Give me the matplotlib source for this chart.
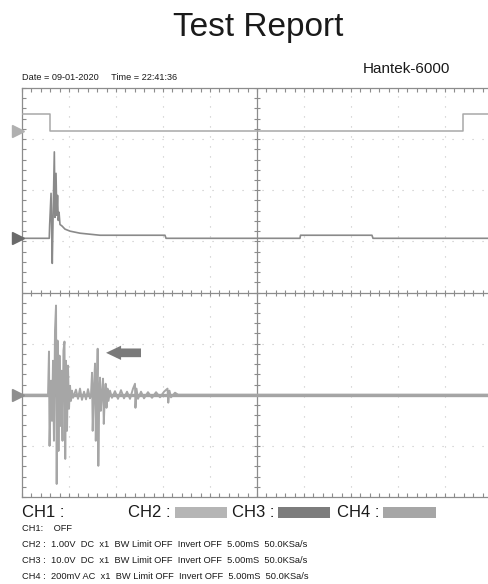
import numpy as np
import matplotlib.pyplot as plt
from matplotlib.patches import FancyArrow, Rectangle

plt.rcParams['font.family'] = ['Liberation Sans', 'DejaVu Sans']

# screen: 10 div x 5 ms, 8 div vertical
t_span = 50.0

# CH2 : 1.00 V/div, ground marker offset in div
ch2_offset = 3.16
ch2_t = [0, 2.93, 2.93, 46.91, 46.91, 50]
ch2_v = [0.33, 0.33, 0.0, 0.0, 0.33, 0.33]

# CH3 : 10.0 V/div
ch3_offset = 1.06
ch3_t = [0, 2.90, 2.94, 3.09, 3.22, 3.30, 3.44, 3.51, 3.62, 3.70, 3.78, 3.86,
         3.94, 4.04, 4.26, 4.57, 5.11, 5.64, 6.17, 7.23, 8.30, 15.21, 15.32,
         29.57, 29.63, 37.23, 37.34, 50]
ch3_v = [0, 0, 2.5, 8.8, -4.9, 3.5, 16.9, 4.1, 12.7, 4.5, 8.4, 3.5,
         5.1, 2.7, 2.4, 1.8, 1.4, 1.2, 1.0, 0.8, 0.6, 0.6, 0,
         0, 0.6, 0.6, 0, 0]

# CH4 : 200 mV/div AC
ch4_offset = -2.0
ch4_t = [0, 2.77, 2.87, 2.93, 3.09, 3.19, 3.30, 3.40, 3.51, 3.62, 3.69, 3.78,
         3.88, 3.99, 4.10, 4.20, 4.31, 4.41, 4.52, 4.60, 4.68, 4.79, 4.89,
         5.00, 5.11, 5.21, 5.32, 5.43, 5.74, 5.96, 6.17, 6.38, 6.60, 6.81,
         7.02, 7.23, 7.34, 7.45, 7.52, 7.66, 7.77, 7.85, 7.96, 8.05, 8.12,
         8.21, 8.30, 8.38, 8.51, 8.62, 8.70, 8.81, 8.90, 8.99, 9.10, 9.20,
         9.36, 9.57, 9.89, 10.21, 10.53, 10.85, 11.17, 11.49, 11.81, 12.02,
         12.07, 12.18, 12.34, 12.66, 12.98, 13.40, 13.83, 14.26, 14.68, 15.11,
         15.48, 15.56, 15.69, 15.85, 16.28, 16.60, 50]
ch4_mv = [0, 0, 169, -200, 55, -102, 133, -180, 251, 349, -349, 212,
          -220, 153, -122, 94, -180, 173, 208, -251, 133, -141, 114,
          -55, 35, -24, 16, -12, 20, -16, 24, -20, 12, -18,
          22, -14, 0, 86, -141, 35, 122, -180, 16, 180, -278,
          -24, 67, -63, 8, 63, -114, -4, 43, -51, 24, -24,
          16, -12, 14, -16, 18, -14, 12, -16, 24, 43,
          -51, 24, -16, 12, -14, 10, -12, 10, -10, 12,
          24, -31, 16, -10, 8, 0, 0]

legend_labels = ['CH1 :', 'CH2 :', 'CH3 :', 'CH4 :']
info_lines = [
    'CH1:    OFF',
    'CH2 :  1.00V  DC  x1  BW Limit OFF  Invert OFF  5.00mS  50.0KSa/s',
    'CH3 :  10.0V  DC  x1  BW Limit OFF  Invert OFF  5.00mS  50.0KSa/s',
    'CH4 :  200mV AC  x1  BW Limit OFF  Invert OFF  5.00mS  50.0KSa/s',
]

W, H = 489, 584
fig = plt.figure(figsize=(W / 100, H / 100), dpi=100)

def fx(px):
    return px / W

def fy(py):
    return 1 - py / H

ax = fig.add_axes([fx(22), fy(497), 470 / W, 409 / H])
ax.set_xlim(0, t_span)
ax.set_ylim(-4, 4)
for s in ax.spines.values():
    s.set_color('#8c8c8c')
    s.set_linewidth(0.9)
ax.set_xticks([])
ax.set_yticks([])
ax.set_xticks(np.arange(0, t_span + 0.01, 1), minor=True)
ax.set_yticks(np.arange(-4, 4.01, 0.2), minor=True)
ax.tick_params(which='minor', direction='in', length=3, width=0.8,
               color='#8c8c8c', top=True, bottom=True, left=True, right=True)
ax.set_xticklabels([], minor=True)
ax.set_yticklabels([], minor=True)

# dotted division grid
for x in np.arange(5, t_span, 5):
    if x != 25:
        ax.axvline(x, color='#c4c4c4', lw=0.8, ls=(0, (1, 8)), zorder=0)
for y in [-3, -2, -1, 1, 2, 3]:
    ax.axhline(y, color='#c4c4c4', lw=0.8, ls=(0, (1, 8)), zorder=0)

# centre cross with ticks
ax.axvline(25, color='#8c8c8c', lw=0.9, zorder=1)
ax.axhline(0, color='#8c8c8c', lw=0.9, zorder=1)
ax.plot(np.arange(0, t_span + 0.01, 1), np.zeros(51), ls='', marker='|',
        ms=5, mew=0.8, color='#8c8c8c', zorder=1)
ax.plot(np.full(41, 25.0), np.arange(-4, 4.01, 0.2), ls='', marker='_',
        ms=5, mew=0.8, color='#8c8c8c', zorder=1)

# traces
ax.plot(ch2_t, ch2_offset + np.array(ch2_v) / 1.0, color='#a8a8a8', lw=1.1, zorder=3)
ax.plot(ch3_t, ch3_offset + np.array(ch3_v) / 10.0, color='#8a8a8a', lw=1.2, zorder=3)
ax.plot([0, t_span], [ch4_offset, ch4_offset], color='#a4a4a4', lw=2.4, zorder=2)
ax.plot(ch4_t, ch4_offset + np.array(ch4_mv) / 200.0, color='#a6a6a6', lw=1.4, zorder=3)

# channel ground markers
for yy, c in [(ch2_offset, '#b0b0b0'), (ch3_offset, '#6a6a6a'), (ch4_offset, '#8e8e8e')]:
    ax.plot([-0.45], [yy], marker='>', ms=8, color=c, clip_on=False, zorder=5)

# arrow
ax.add_patch(FancyArrow(12.66, -1.18, -3.72, 0, width=0.17, head_width=0.28,
                        head_length=1.6, length_includes_head=True,
                        color='#7a7a7a', lw=0, zorder=6))

# header
fig.text(fx(258), fy(36), 'Test Report', fontsize=24, ha='center', va='baseline', color='#1a1a1a')
fig.text(fx(363), fy(73), 'Hantek-6000', fontsize=11, ha='left', va='baseline', color='#1a1a1a')
fig.text(fx(22), fy(80), 'Date = 09-01-2020     Time = 22:41:36', fontsize=6.6,
         ha='left', va='baseline', color='#1a1a1a')

# legend row
lx = [22, 128, 232, 337]
for x, lab in zip(lx, legend_labels):
    fig.text(fx(x), fy(517), lab, fontsize=12, ha='left', va='baseline', color='#1a1a1a')
for x0, x1, c in [(175, 227, '#b5b5b5'), (278, 330, '#7c7c7c'), (383, 436, '#a6a6a6')]:
    fig.patches.append(Rectangle((fx(x0), fy(518)), (x1 - x0) / W, 11 / H,
                                 transform=fig.transFigure, color=c, lw=0))

for i, line in enumerate(info_lines):
    fig.text(fx(22), fy(531 + 16 * i), line, fontsize=6.7, ha='left', va='baseline', color='#1a1a1a')

fig.savefig('out.png', dpi=100)
